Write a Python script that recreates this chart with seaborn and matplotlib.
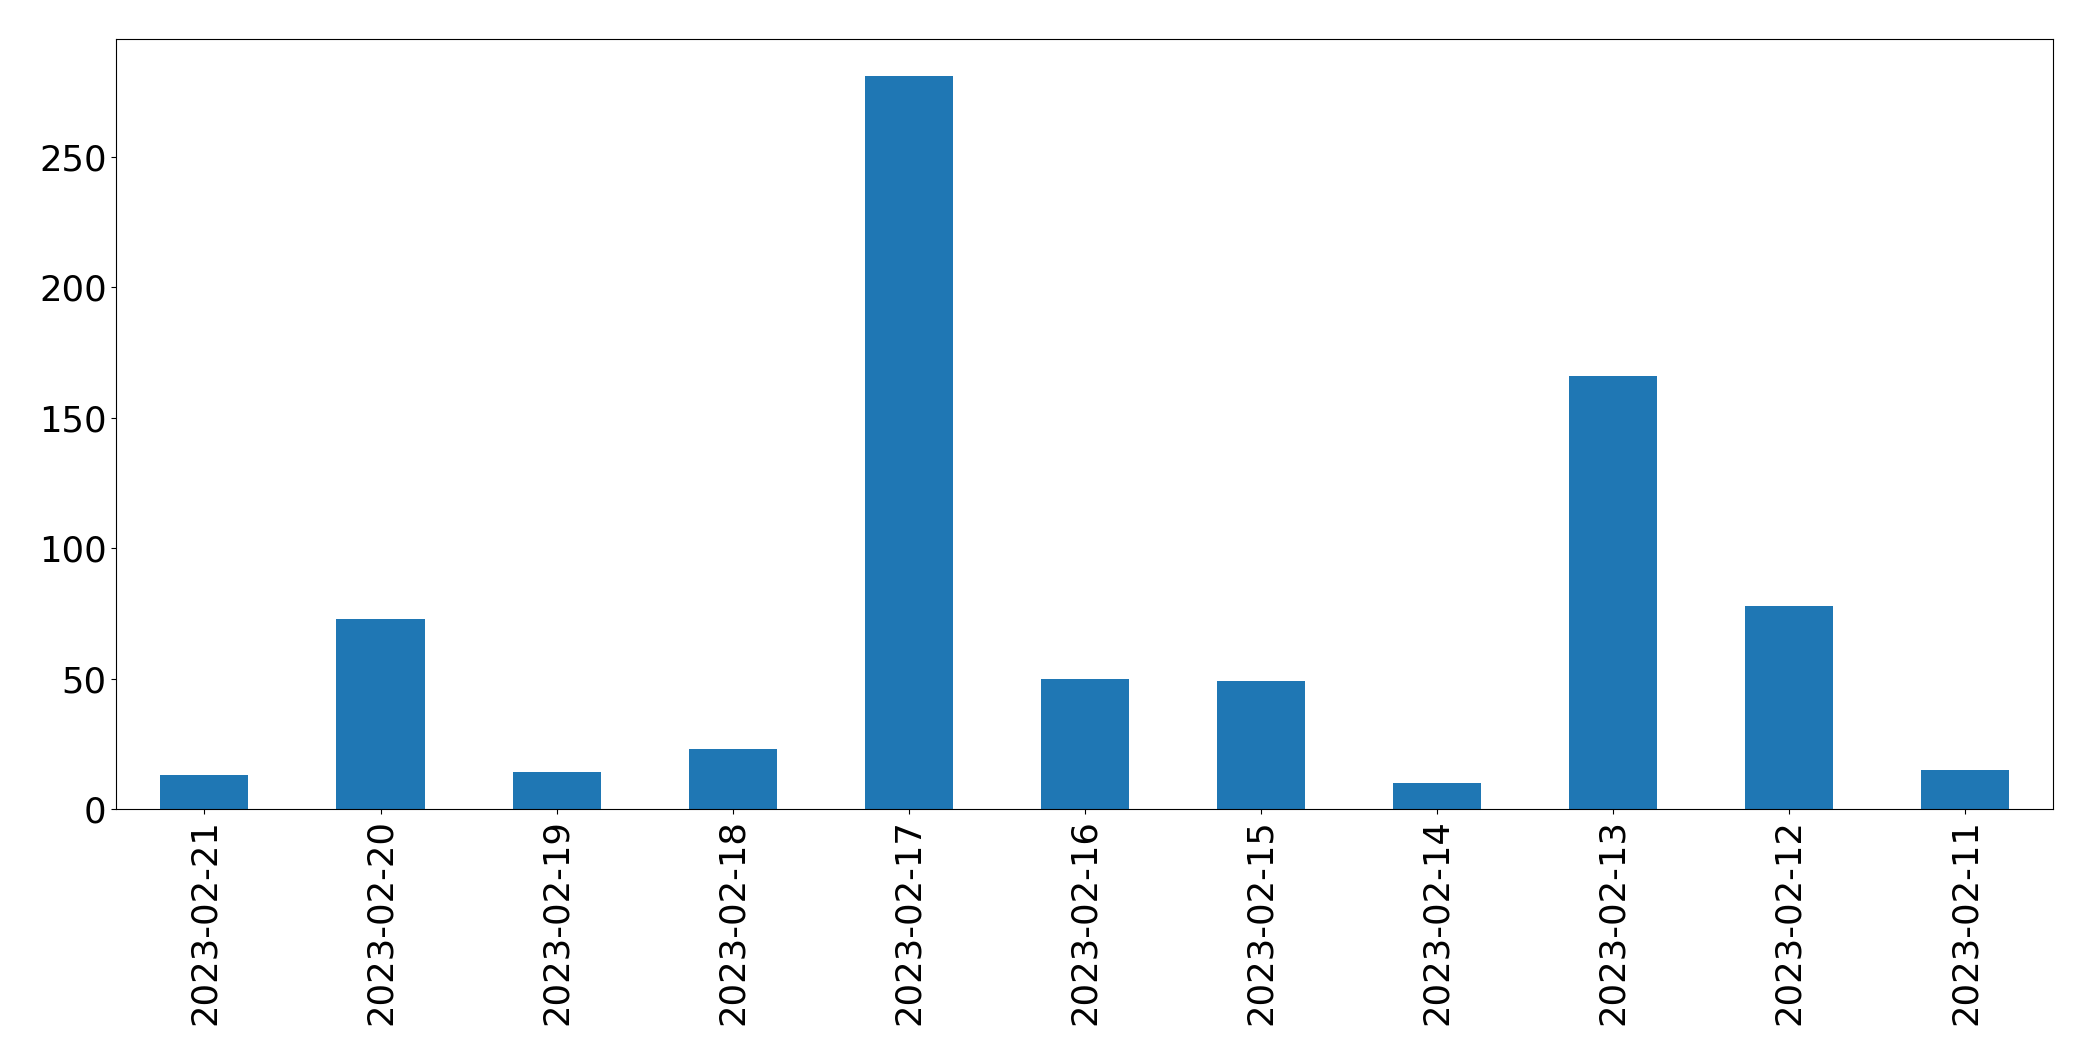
import matplotlib
matplotlib.use("Agg")
import matplotlib.pyplot as plt
import seaborn as sns
import pandas as pd

dates = ["2023-02-21", "2023-02-20", "2023-02-19", "2023-02-18", "2023-02-17",
         "2023-02-16", "2023-02-15", "2023-02-14", "2023-02-13", "2023-02-12",
         "2023-02-11"]
counts = [13, 73, 14, 23, 281, 50, 49, 10, 166, 78, 15]

df = pd.DataFrame({"date": dates, "count": counts})

fig = plt.figure(figsize=(20.93, 10.61), dpi=100)
ax = fig.add_axes([0.0556, 0.2375, 0.9255, 0.7255])
sns.barplot(data=df, x="date", y="count", order=dates, color="#1f77b4",
            saturation=1, width=0.5, ax=ax, errorbar=None)
ax.set_xlim(-0.5, len(dates) - 0.5)
ax.set_ylim(0, max(counts) * 1.05)
ax.set_xlabel("")
ax.set_ylabel("")
ax.tick_params(axis="both", labelsize=25.5)
ax.tick_params(axis="x", labelrotation=90)
for s in ax.spines.values():
    s.set_visible(True)
    s.set_color("black")
fig.savefig("out.png", dpi=100)
